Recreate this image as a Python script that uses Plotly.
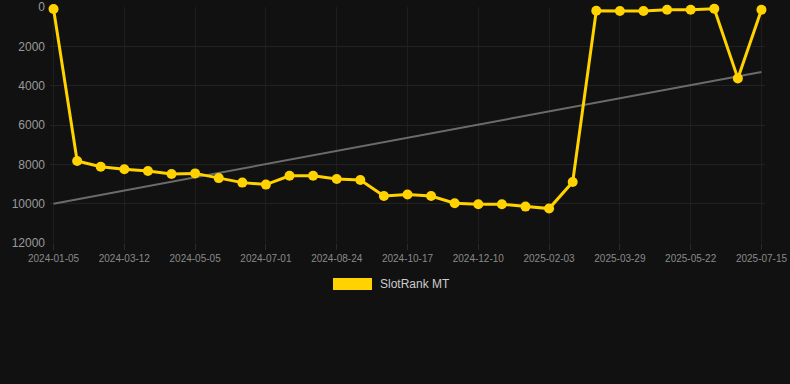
import plotly.graph_objects as go

dates = [
    "2024-01-05", "2024-01-27", "2024-02-18", "2024-03-12", "2024-03-30", "2024-04-17",
    "2024-05-05", "2024-05-24", "2024-06-12", "2024-07-01", "2024-07-19", "2024-08-06",
    "2024-08-24", "2024-09-11", "2024-09-29", "2024-10-17", "2024-11-04", "2024-11-22",
    "2024-12-10", "2024-12-28", "2025-01-15", "2025-02-03", "2025-02-21", "2025-03-11",
    "2025-03-29", "2025-04-16", "2025-05-04", "2025-05-22", "2025-06-09", "2025-06-27",
    "2025-07-15",
]
rank_values = [
    100, 7830, 8120, 8250, 8340, 8490, 8460, 8700, 8930, 9030, 8580, 8580,
    8750, 8800, 9610, 9530, 9610, 9980, 10030, 10030, 10150, 10250, 8900, 190,
    200, 200, 140, 140, 90, 3630, 140,
]
tick_labels = [
    "2024-01-05", "2024-03-12", "2024-05-05", "2024-07-01", "2024-08-24", "2024-10-17",
    "2024-12-10", "2025-02-03", "2025-03-29", "2025-05-22", "2025-07-15",
]
y_ticks = [0, 2000, 4000, 6000, 8000, 10000, 12000]
trend_x = [dates[0], dates[-1]]
trend_values = [10000, 3300]
series_name = "SlotRank MT"

BG = "#111111"
GOLD = "#FFD200"

fig = go.Figure()
fig.add_trace(go.Scatter(
    x=trend_x, y=trend_values, mode="lines",
    line=dict(color="#6b6b6b", width=2), showlegend=False, hoverinfo="skip",
))
fig.add_trace(go.Scatter(
    x=dates, y=rank_values, mode="lines+markers", name=series_name,
    line=dict(color=GOLD, width=3), marker=dict(color=GOLD, size=10),
    cliponaxis=False, showlegend=False,
))

plot_left, plot_w, plot_top, plot_h = 50, 715, 7, 236

fig.update_layout(
    width=790, height=384,
    paper_bgcolor=BG, plot_bgcolor=BG,
    margin=dict(l=plot_left, r=790 - plot_left - plot_w, t=plot_top, b=384 - plot_top - plot_h),
    font=dict(family="Liberation Sans, Arial, sans-serif", color="#999999"),
    xaxis=dict(
        type="category", categoryorder="array", categoryarray=dates,
        range=[-0.15, 30.15], automargin=False,
        tickmode="array", tickvals=tick_labels, ticktext=tick_labels,
        showgrid=True, gridcolor="#1e1e1e", gridwidth=1,
        ticks="outside", ticklen=6, tickcolor="#2a2a2a",
        tickfont=dict(size=10, color="#8a8a8a"),
        zeroline=False, showline=False,
    ),
    yaxis=dict(
        range=[12000, 0], tickmode="array", tickvals=y_ticks, automargin=False,
        ticktext=[str(v) for v in y_ticks],
        showgrid=True, gridcolor="#222222", gridwidth=1,
        tickfont=dict(size=12, color="#9a9a9a"),
        zeroline=False, showline=False, ticks="", ticklabelstandoff=4,
    ),
)

def px_x(x):
    return (x - plot_left) / plot_w
def px_y(y):
    return 1 - (y - plot_top) / plot_h

fig.add_shape(type="rect", xref="paper", yref="paper",
              x0=px_x(333), x1=px_x(372), y0=px_y(290), y1=px_y(278),
              fillcolor=GOLD, line=dict(width=0))
fig.add_annotation(xref="paper", yref="paper", x=px_x(378), y=px_y(284),
                   xanchor="left", yanchor="middle", showarrow=False,
                   text=series_name, font=dict(size=12, color="#cccccc"))

fig.write_html(
    "out.html",
    config={"displayModeBar": False},
    post_script="document.body.style.margin='0';document.body.style.background='#111111';",
)
